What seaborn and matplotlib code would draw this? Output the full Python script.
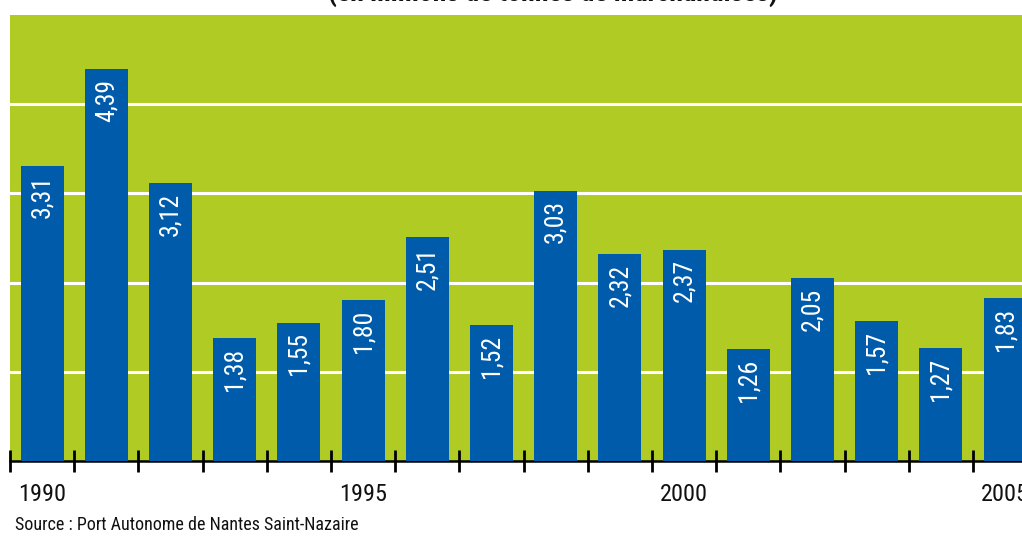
import matplotlib
matplotlib.use("Agg")
import matplotlib.pyplot as plt
from matplotlib import font_manager
import seaborn as sns
import pandas as pd

# Annual tonnage figures (millions of tonnes), 1990-2005
years = [1990, 1991, 1992, 1993, 1994, 1995, 1996, 1997,
         1998, 1999, 2000, 2001, 2002, 2003, 2004, 2005]
values = [3.31, 4.39, 3.12, 1.38, 1.55, 1.80, 2.51, 1.52,
          3.03, 2.32, 2.37, 1.26, 2.05, 1.57, 1.27, 1.83]
shown_years = [1990, 1995, 2000, 2005]
title_text = "(en millions de tonnes de marchandises)"
source_text = "Source : Port Autonome de Nantes Saint-Nazaire"

GREEN = "#B0CB23"
BLUE = "#005CAB"

sns.set_theme(style="white")

# prefer a condensed face when one is installed
installed = {f.name for f in font_manager.fontManager.ttflist}
preferred = ["Liberation Sans Narrow", "DejaVu Sans Condensed",
             "Roboto Condensed", "Open Sans Condensed", "Roboto"]
families = [f for f in preferred if f in installed] + ["DejaVu Sans"]
plt.rcParams["font.family"] = families
plt.rcParams["font.stretch"] = "condensed"

df = pd.DataFrame({"year": [str(y) for y in years], "value": values})

W, H = 1022, 537
fig = plt.figure(figsize=(W / 100, H / 100), dpi=100)
ax = fig.add_axes([10 / W, 1 - 461 / H, (W - 10) / W, (461 - 15) / H])
ax.set_facecolor(GREEN)

sns.barplot(data=df, x="year", y="value", order=[str(y) for y in years],
            color=BLUE, saturation=1, width=0.67, linewidth=0,
            ax=ax, zorder=3)

n = len(years)

# white horizontal guides
ax.set_yticks([1, 2, 3, 4])
ax.yaxis.grid(True, color="white", linewidth=2.2, zorder=1)
ax.set_axisbelow(True)
ax.tick_params(axis="y", left=False, labelleft=False)

# tick marks between categories, year labels under selected bars
ax.set_xticks([i - 0.5 for i in range(n + 1)])
ax.set_xticklabels([])
ax.tick_params(axis="x", which="major", direction="inout", length=16,
               width=2, color="black", bottom=True)
ax.set_xticks([years.index(y) for y in shown_years], minor=True)
ax.set_xticklabels([str(y) for y in shown_years], minor=True)
ax.tick_params(axis="x", which="minor", length=0, pad=16,
               labelsize=17.5, labelcolor="#111111")

# 64.2 px per category; the last bar runs to the right edge
ax.set_xlim(-0.5, -0.5 + (W - 10) / 64.2)
ax.set_ylim(0, 5)

for s in ["top", "right", "left"]:
    ax.spines[s].set_visible(False)
ax.spines["bottom"].set_color("black")
ax.spines["bottom"].set_linewidth(1.8)
ax.set_xlabel("")
ax.set_ylabel("")

# value labels inside the bars
for i, v in enumerate(values):
    ax.annotate(f"{v:.2f}".replace(".", ","), xy=(i, v), xytext=(0, -7),
                textcoords="offset points", rotation=90, ha="center", va="top",
                color="white", fontsize=18.5, zorder=4)

fig.text(553 / W, 1 - 1 / H, title_text, ha="center", va="baseline",
         fontsize=20, fontweight="bold", color="#111111")
fig.text(15 / W, 1 - 534 / H, source_text, ha="left", va="bottom",
         fontsize=13, color="#111111")

fig.savefig("out.png", dpi=100)
